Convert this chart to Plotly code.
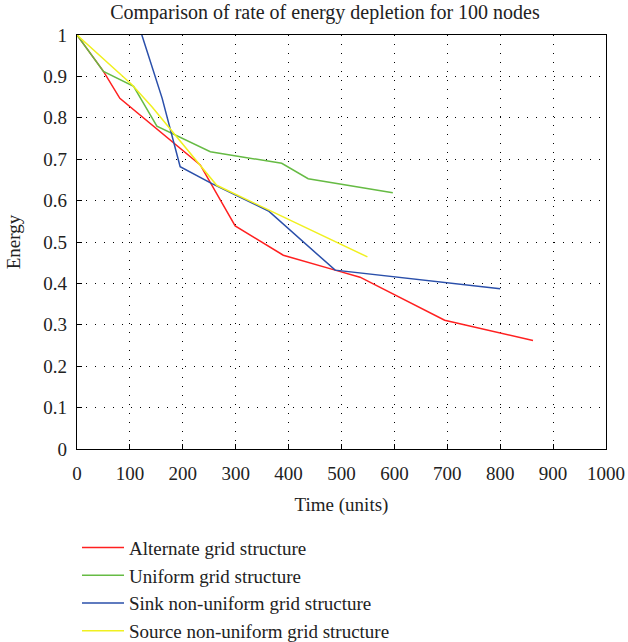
import plotly.graph_objects as go

alt_x = [0, 50, 81, 233, 299, 390, 488, 535, 695, 862]
alt_y = [1.0, 0.912, 0.847, 0.686, 0.539, 0.468, 0.432, 0.415, 0.311, 0.262]

uni_x = [0, 50, 107, 151, 252, 387, 437, 597]
uni_y = [1.0, 0.912, 0.876, 0.78, 0.718, 0.69, 0.653, 0.619]

sink_x = [100, 161, 195, 255, 362, 488, 800]
sink_y = [1.09, 0.847, 0.682, 0.641, 0.575, 0.432, 0.387]

src_x = [0, 104, 142, 264, 549]
src_y = [1.0, 0.88, 0.826, 0.637, 0.464]

names = ["Alternate grid structure", "Uniform grid structure",
         "Sink non-uniform grid structure", "Source non-uniform grid structure"]
colors = ["#ff2020", "#66bb44", "#2a4faa", "#f0f020"]

FONT = "Liberation Serif"
TXT = "#222"

fig = go.Figure()
for xs, ys, n, c in zip([alt_x, uni_x, sink_x, src_x], [alt_y, uni_y, sink_y, src_y], names, colors):
    fig.add_trace(go.Scatter(x=xs, y=ys, mode="lines", name=n,
                             line=dict(color=c, width=1.5)))

axis_common = dict(showline=True, linecolor="black", linewidth=1.2, mirror=True,
                   ticks="inside", ticklen=5, tickcolor="black", automargin=False,
                   showgrid=True, gridcolor="black", gridwidth=1, griddash="1px,8px",
                   zeroline=False, tickfont=dict(family=FONT, size=19, color=TXT))

fig.update_layout(
    width=628, height=642,
    margin=dict(l=77, r=22, t=35, b=193, autoexpand=False),
    paper_bgcolor="white", plot_bgcolor="white",
    title=dict(text="Comparison of rate of energy depletion for 100 nodes",
               x=0.5175, xanchor="center", xref="container", y=0.982, yanchor="middle",
               font=dict(family=FONT, size=20, color=TXT)),
    xaxis=dict(range=[0, 1000], tickvals=list(range(0, 1001, 100)),
               ticklabelstandoff=7,
               title=dict(text="Time (units)", font=dict(family=FONT, size=19, color=TXT), standoff=14),
               **axis_common),
    yaxis=dict(range=[0, 1], tickvals=[i / 10 for i in range(11)],
               ticktext=["0", "0.1", "0.2", "0.3", "0.4", "0.5", "0.6", "0.7", "0.8", "0.9", "1"],
               ticklabelstandoff=5,
               title=dict(text="Energy", font=dict(family=FONT, size=19, color=TXT), standoff=17),
               **axis_common),
    legend=dict(x=0.0, xanchor="left", xref="paper", y=0.1765, yanchor="top", yref="container",
                font=dict(family=FONT, size=19, color=TXT), itemwidth=42,
                bgcolor="rgba(0,0,0,0)", tracegroupgap=0),
    showlegend=True,
)

fig.write_html("out.html")
